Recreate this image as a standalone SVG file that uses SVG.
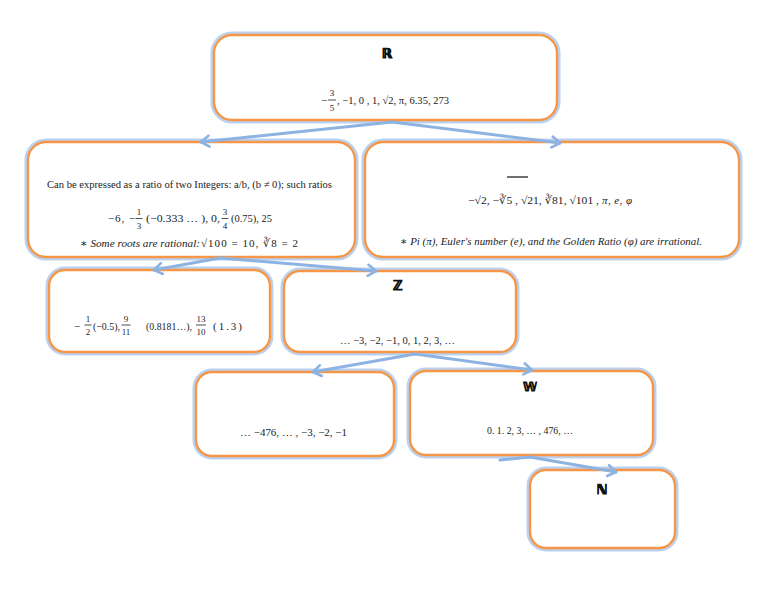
<svg xmlns="http://www.w3.org/2000/svg" width="768" height="594" viewBox="0 0 768 594">
<defs>
<marker id="ah" markerWidth="14" markerHeight="14" refX="10" refY="7" orient="auto" markerUnits="userSpaceOnUse">
<path d="M2,1.5 L10,7 L2,12.5" fill="none" stroke="#8db3e2" stroke-width="2.6" stroke-linecap="round" stroke-linejoin="round"/>
</marker>
</defs>
<style>
.glow{fill:none;stroke:#a9c6ec;stroke-width:7;opacity:0.8}
.box{fill:#ffffff;stroke:#f79646;stroke-width:2.4}
.conn{fill:none;stroke:#8db3e2;stroke-width:3;stroke-linecap:round;stroke-linejoin:round}
.t{font-family:"Liberation Serif","DejaVu Serif",serif;font-size:11px;fill:#222}
.f{font-family:"Liberation Serif","DejaVu Serif",serif;font-size:9px;fill:#222;text-anchor:middle}
.i{font-style:italic}
.lbl{font-family:"DejaVu Serif","DejaVu Sans",serif;font-size:13px;font-weight:bold;fill:#111;stroke:#111;stroke-width:0.9;text-anchor:middle}
.bar{stroke:#222;stroke-width:0.8}
</style>
<rect width="768" height="594" fill="#ffffff"/>

<g id="node-real">
<rect class="glow" x="214" y="35" width="343" height="85" rx="18"/>
<rect class="box" x="214" y="35" width="343" height="85" rx="18"/>
<text class="lbl" x="387" y="58">ℝ</text>
<text class="t" x="321" y="104">−</text>
<text class="f" x="332" y="96">3</text>
<line class="bar" x1="328" y1="100" x2="336" y2="100"/>
<text class="f" x="332" y="111">5</text>
<text class="t" x="337" y="104" textLength="112" lengthAdjust="spacingAndGlyphs">, −1, 0 , 1, √2, π, 6.35, 273</text>
</g>

<g id="node-rational">
<rect class="glow" x="28" y="142" width="327" height="115" rx="18"/>
<rect class="box" x="28" y="142" width="327" height="115" rx="18"/>
<text class="t" x="47" y="188" font-size="10.5" textLength="285" lengthAdjust="spacingAndGlyphs">Can be expressed as a ratio of two Integers: a/b, (b ≠ 0); such ratios</text>
<text class="t" x="108" y="222" textLength="27" lengthAdjust="spacing">−6, −</text>
<text class="f" x="139" y="215">1</text>
<line class="bar" x1="135.5" y1="218.5" x2="142.5" y2="218.5"/>
<text class="f" x="139" y="229">3</text>
<text class="t" x="146" y="222" textLength="74" lengthAdjust="spacingAndGlyphs">(−0.333 … ), 0,</text>
<text class="f" x="225" y="215">3</text>
<line class="bar" x1="221.5" y1="218.5" x2="228.5" y2="218.5"/>
<text class="f" x="225" y="229">4</text>
<text class="t" x="231" y="222" textLength="41" lengthAdjust="spacingAndGlyphs">(0.75), 25</text>
<text class="t i" x="80" y="247" font-size="12" textLength="120" lengthAdjust="spacingAndGlyphs">∗ Some roots are rational:</text>
<text class="t" x="201" y="247" font-size="12" textLength="97" lengthAdjust="spacing">√100 = 10, ∛8 = 2</text>
</g>

<g id="node-irrational">
<rect class="glow" x="365" y="142" width="374" height="115" rx="18"/>
<rect class="box" x="365" y="142" width="374" height="115" rx="18"/>
<line x1="507" y1="177" x2="528" y2="177" stroke="#111" stroke-width="1.2"/>
<text class="t" x="468" y="204" textLength="131" lengthAdjust="spacingAndGlyphs">−√2,  −∛5 , √21, ∛81, √101 ,</text>
<text class="t i" x="602" y="204" textLength="30" lengthAdjust="spacing">π, e,  φ</text>
<text class="t i" x="400" y="245" font-size="10.5" textLength="302" lengthAdjust="spacingAndGlyphs">∗ Pi (π),  Euler's number (e), and the Golden Ratio (φ) are irrational.</text>
</g>

<g id="node-fractions">
<rect class="glow" x="49" y="270" width="221" height="82" rx="16"/>
<rect class="box" x="49" y="270" width="221" height="82" rx="16"/>
<text class="t" x="74" y="330">−</text>
<text class="f" x="88" y="322">1</text>
<line class="bar" x1="84.5" y1="325" x2="91.5" y2="325"/>
<text class="f" x="88" y="335">2</text>
<text class="t" x="93" y="330" textLength="27" lengthAdjust="spacingAndGlyphs">(−0.5),</text>
<text class="f" x="126" y="322">9</text>
<line class="bar" x1="121.5" y1="325" x2="130.5" y2="325"/>
<text class="f" x="126" y="335">11</text>
<text class="t" x="146" y="330" textLength="46" lengthAdjust="spacingAndGlyphs">(0.8181…),</text>
<text class="f" x="201" y="322">13</text>
<line class="bar" x1="196" y1="325" x2="206" y2="325"/>
<text class="f" x="201" y="335">10</text>
<text class="t" x="213" y="330" textLength="29" lengthAdjust="spacing">(1.3)</text>
</g>

<g id="node-integers">
<rect class="glow" x="284" y="271" width="232" height="81" rx="16"/>
<rect class="box" x="284" y="271" width="232" height="81" rx="16"/>
<text class="lbl" x="398" y="290">ℤ</text>
<text class="t" x="340" y="344" textLength="115" lengthAdjust="spacingAndGlyphs">… −3, −2, −1, 0, 1, 2, 3, …</text>
</g>

<g id="node-negatives">
<rect class="glow" x="196" y="372" width="198" height="84" rx="16"/>
<rect class="box" x="196" y="372" width="198" height="84" rx="16"/>
<text class="t" x="240" y="436" textLength="107" lengthAdjust="spacingAndGlyphs">… −476, … , −3, −2, −1</text>
</g>

<g id="node-whole">
<rect class="glow" x="410" y="371" width="243" height="84" rx="16"/>
<rect class="box" x="410" y="371" width="243" height="84" rx="16"/>
<text class="lbl" x="530" y="391">𝕎</text>
<text class="t" x="487" y="434" textLength="86" lengthAdjust="spacingAndGlyphs">0. 1. 2, 3, … , 476, …</text>
</g>

<g id="node-natural">
<rect class="glow" x="530" y="470" width="145" height="78" rx="16"/>
<rect class="box" x="530" y="470" width="145" height="78" rx="16"/>
<text class="lbl" x="602" y="494">ℕ</text>
</g>

<g id="connectors">
<path class="conn" d="M392,122 L201,142" marker-end="url(#ah)"/>
<path class="conn" d="M392,122 L560,143" marker-end="url(#ah)"/>
<path class="conn" d="M220,258 L154,270" marker-end="url(#ah)"/>
<path class="conn" d="M220,258 L376,271" marker-end="url(#ah)"/>
<path class="conn" d="M415,354 L313,372" marker-end="url(#ah)"/>
<path class="conn" d="M415,354 L532,370" marker-end="url(#ah)"/>
<path class="conn" d="M500,460 L530,457 L616,472" marker-end="url(#ah)"/>
</g>
</svg>
